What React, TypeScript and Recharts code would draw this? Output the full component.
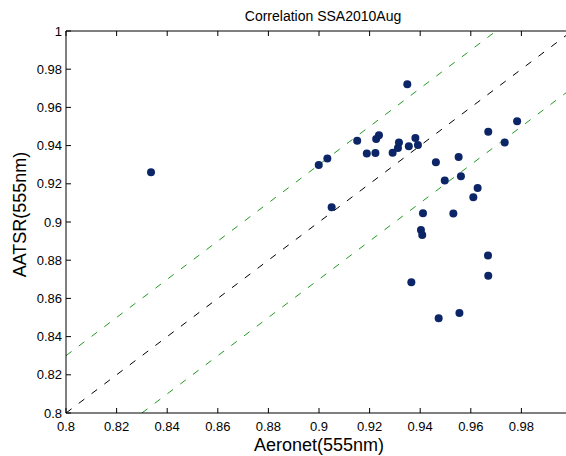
import React from 'react';
import { ScatterChart, Scatter, XAxis, YAxis, ReferenceLine } from 'recharts';

const xValues = [0.8336, 0.8999, 0.9033, 0.9151, 0.9189, 0.9223, 0.9226, 0.9237, 0.9291, 0.9312, 0.9316, 0.9355, 0.9381, 0.9391, 0.9462, 0.9552, 0.9497, 0.9561, 0.9627, 0.961, 0.9669, 0.9734, 0.9783, 0.905, 0.9411, 0.9531, 0.9403, 0.9408, 0.9668, 0.9669, 0.9365, 0.9473, 0.9555, 0.9349];
const yValues = [0.926, 0.9298, 0.9332, 0.9426, 0.9358, 0.9361, 0.9435, 0.9454, 0.9363, 0.9387, 0.9416, 0.9396, 0.944, 0.9403, 0.9313, 0.934, 0.9217, 0.9239, 0.9178, 0.9129, 0.9473, 0.9416, 0.9527, 0.9077, 0.9046, 0.9044, 0.8958, 0.8932, 0.8824, 0.8719, 0.8684, 0.8496, 0.8524, 0.9721];

const xTicks = [0.8, 0.82, 0.84, 0.86, 0.88, 0.9, 0.92, 0.94, 0.96, 0.98];
const yTicks = [0.8, 0.82, 0.84, 0.86, 0.88, 0.9, 0.92, 0.94, 0.96, 0.98, 1];

const identityLine = [[0.8, 0.8], [1, 1]];
const upperLine = [[0.8, 0.83], [0.97, 1]];
const lowerLine = [[0.83, 0.8], [1, 0.97]];

const title = 'Correlation SSA2010Aug';
const xLabel = 'Aeronet(555nm)';
const yLabel = 'AATSR(555nm)';

const data = xValues.map((x, i) => ({ x, y: yValues[i] }));
const seg = (l: number[][]) => l.map(([x, y]) => ({ x, y }));

const FONT = '"Liberation Sans", Arial, Helvetica, sans-serif';

const BottomTick = (props: any) => {
  const { x, y, payload } = props;
  return (
    <g>
      <line x1={x} y1={y} x2={x} y2={y - 5} stroke="#000" strokeWidth={1} />
      <text x={x} y={y + 17.5} textAnchor="middle" fontSize={13} fontFamily={FONT} fill="#000">
        {String(payload.value)}
      </text>
    </g>
  );
};

const TopTick = (props: any) => {
  const { x, y } = props;
  return <line x1={x} y1={y} x2={x} y2={y + 5} stroke="#000" strokeWidth={1} />;
};

const LeftTick = (props: any) => {
  const { x, y, payload } = props;
  return (
    <g>
      <line x1={x} y1={y} x2={x + 5} y2={y} stroke="#000" strokeWidth={1} />
      <text x={x - 4} y={y} dy="0.36em" textAnchor="end" fontSize={13} fontFamily={FONT} fill="#000">
        {String(payload.value)}
      </text>
    </g>
  );
};

const XLabel = (props: any) => {
  const vb = props.viewBox;
  return (
    <text x={vb.x + vb.width / 2} y={vb.y + 37.5} textAnchor="middle" fontSize={18} fontFamily={FONT} fill="#000">
      {xLabel}
    </text>
  );
};

const YLabel = (props: any) => {
  const vb = props.viewBox;
  const cx = vb.x + 26;
  const cy = vb.y + vb.height / 2 - 7.5;
  return (
    <text x={cx} y={cy} transform={`rotate(-90 ${cx} ${cy})`} textAnchor="middle" fontSize={18} fontFamily={FONT} fill="#000">
      {yLabel}
    </text>
  );
};

const TitleLabel = (props: any) => {
  const vb = props.viewBox;
  return (
    <text x={vb.x + vb.width / 2 + 4} y={vb.y + vb.height - 10.5} textAnchor="middle" fontSize={14} fontFamily={FONT} fill="#000">
      {title}
    </text>
  );
};

const Dot = (props: any) => <circle cx={props.cx} cy={props.cy} r={4} fill="#0b2567" />;
const NoDot = () => <g />;

export default function App() {
  return (
    <div style={{ position: 'fixed', left: 0, top: 0, width: 566, height: 456, overflow: 'hidden', background: '#fff' }}>
      <ScatterChart width={580} height={456} margin={{ top: 11, right: 8, bottom: 0, left: 0 }}>
        <XAxis
          dataKey="x"
          type="number"
          domain={[0.8, 1]}
          ticks={xTicks}
          allowDataOverflow
          height={43}
          tickSize={0}
          tickMargin={0}
          tickLine={false}
          tick={<BottomTick />}
          axisLine={{ stroke: '#000', strokeWidth: 1 }}
          interval={0}
          label={<XLabel />}
        />
        <XAxis
          xAxisId="top"
          orientation="top"
          dataKey="x"
          type="number"
          domain={[0.8, 1]}
          ticks={xTicks}
          allowDataOverflow
          height={20}
          tickSize={0}
          tickMargin={0}
          tickLine={false}
          tick={<TopTick />}
          axisLine={{ stroke: '#000', strokeWidth: 1 }}
          interval={0}
          label={<TitleLabel />}
        />
        <YAxis
          dataKey="y"
          type="number"
          domain={[0.8, 1]}
          ticks={yTicks}
          allowDataOverflow
          width={66}
          tickSize={0}
          tickMargin={0}
          tickLine={false}
          tick={<LeftTick />}
          axisLine={{ stroke: '#000', strokeWidth: 1 }}
          interval={0}
          label={<YLabel />}
        />
        <ReferenceLine segment={seg(upperLine)} stroke="#1f9a1f" strokeWidth={1} strokeDasharray="7 9" />
        <ReferenceLine segment={seg(lowerLine)} stroke="#1f9a1f" strokeWidth={1} strokeDasharray="7 9" />
        <ReferenceLine segment={seg(identityLine)} stroke="#000" strokeWidth={1} strokeDasharray="7 9" />
        <Scatter data={data} xAxisId="top" shape={<NoDot />} isAnimationActive={false} />
        <Scatter data={data} shape={<Dot />} isAnimationActive={false} />
      </ScatterChart>
    </div>
  );
}
